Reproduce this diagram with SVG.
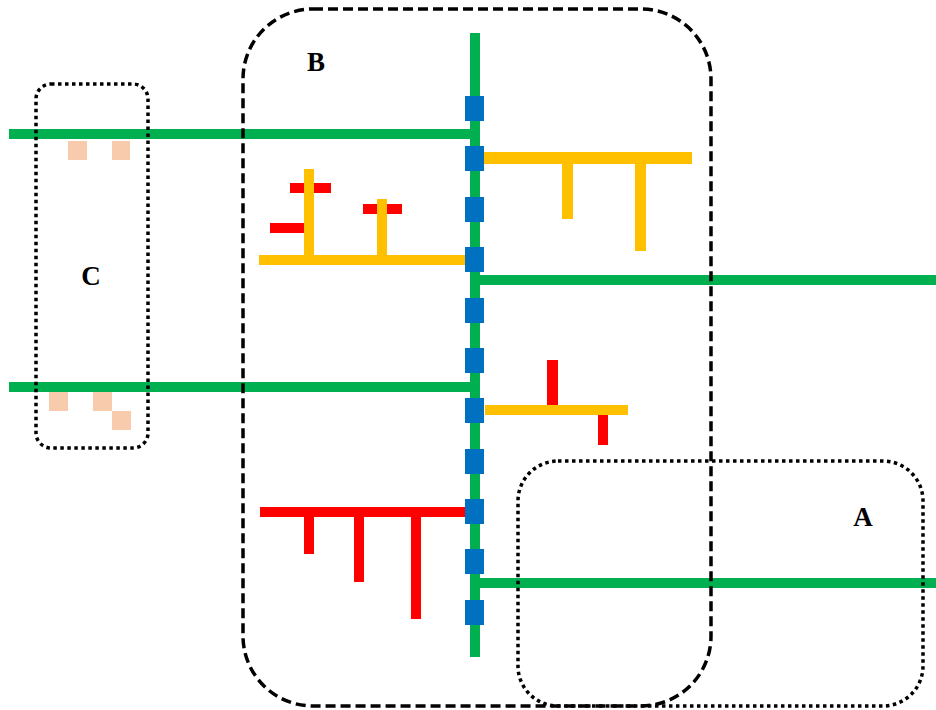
<svg xmlns="http://www.w3.org/2000/svg" width="936" height="710" viewBox="0 0 936 710">
<style>
.g{fill:#00B050}
.o{fill:#FFC000}
.r{fill:#FF0000}
.b{fill:#0070C0}
.p{fill:#F8CBAD}
.dash{fill:none;stroke:#000;stroke-width:3.5;stroke-dasharray:10 5}
.dot{fill:none;stroke:#000;stroke-width:3.5;stroke-dasharray:3.5 3.5}
.lbl{font-family:"Liberation Serif",serif;font-weight:bold;font-size:27px;fill:#000;text-anchor:middle}
</style>
<rect width="936" height="710" fill="#fff"/>
<g id="connectors">
<rect class="g" x="9" y="129" width="466" height="10"/>
<rect class="g" x="9" y="382" width="466" height="10"/>
<rect class="g" x="474" y="275" width="462" height="10"/>
<rect class="g" x="474" y="578" width="462" height="10"/>
<rect class="g" x="470" y="33" width="10" height="624"/>
</g>
<g id="orange-top-right">
<rect class="o" x="482" y="152" width="210" height="12"/>
<rect class="o" x="562" y="158" width="11" height="61"/>
<rect class="o" x="635" y="158" width="11" height="93"/>
</g>
<g id="orange-left">
<rect class="r" x="290" y="183" width="41" height="10"/>
<rect class="r" x="363" y="204" width="39" height="10"/>
<rect class="r" x="270" y="223" width="36" height="10"/>
<rect class="o" x="259" y="255" width="209" height="10"/>
<rect class="o" x="304" y="169" width="10" height="92"/>
<rect class="o" x="377" y="199" width="10" height="62"/>
</g>
<g id="orange-middle">
<rect class="r" x="547" y="360" width="11" height="47"/>
<rect class="r" x="598" y="413" width="10" height="32"/>
<rect class="o" x="485" y="405" width="143" height="10"/>
</g>
<g id="red-bottom">
<rect class="r" x="260" y="507" width="208" height="10"/>
<rect class="r" x="304" y="512" width="10" height="42"/>
<rect class="r" x="354" y="512" width="10" height="70"/>
<rect class="r" x="411" y="512" width="10" height="107"/>
</g>
<g id="blocks">
<rect class="b" x="465" y="96" width="19" height="25"/>
<rect class="b" x="465" y="146" width="19" height="25"/>
<rect class="b" x="465" y="197" width="19" height="25"/>
<rect class="b" x="465" y="247" width="19" height="25"/>
<rect class="b" x="465" y="298" width="19" height="25"/>
<rect class="b" x="465" y="348" width="19" height="25"/>
<rect class="b" x="465" y="398" width="19" height="25"/>
<rect class="b" x="465" y="449" width="19" height="25"/>
<rect class="b" x="465" y="499" width="19" height="25"/>
<rect class="b" x="465" y="549" width="19" height="25"/>
<rect class="b" x="465" y="600" width="19" height="25"/>
</g>
<g id="peach">
<rect class="p" x="68" y="141" width="19" height="19"/>
<rect class="p" x="112" y="141" width="18" height="19"/>
<rect class="p" x="49" y="392" width="19" height="19"/>
<rect class="p" x="93" y="392" width="19" height="19"/>
<rect class="p" x="112" y="411" width="19" height="19"/>
</g>
<g id="B">
<rect class="dash" x="243" y="9" width="468" height="697" rx="70" ry="70"/>
<text class="lbl" x="316" y="71">B</text>
</g>
<g id="C">
<rect class="dot" x="36" y="84" width="112" height="364" rx="15" ry="15"/>
<text class="lbl" x="91" y="285">C</text>
</g>
<g id="A">
<rect class="dot" x="518" y="461" width="405" height="245" rx="40" ry="40"/>
<text class="lbl" x="863" y="526">A</text>
</g>
</svg>
